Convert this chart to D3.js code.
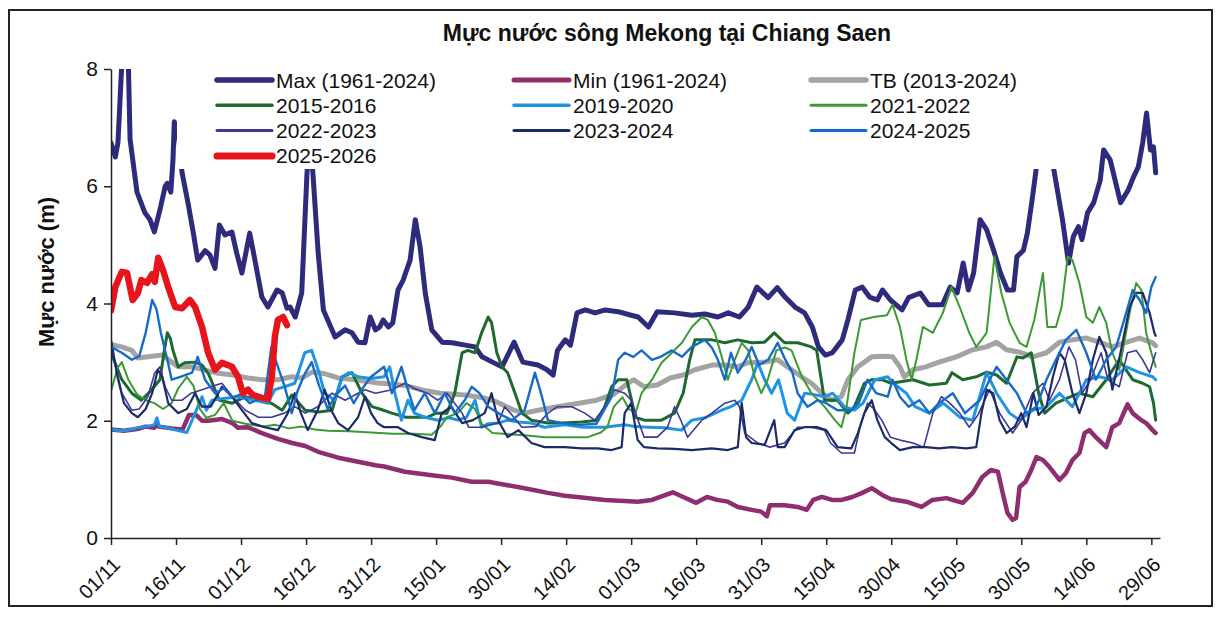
<!DOCTYPE html>
<html><head><meta charset="utf-8">
<script src="https://cdn.jsdelivr.net/npm/d3@7/dist/d3.min.js"></script>
<style>
body{margin:0;background:#fff}
svg{display:block}
text{font-family:"Liberation Sans",Arial,sans-serif;fill:#111}
</style>
</head><body>
<svg id="chart" width="1219" height="617"></svg>
<script>
// ---------------- data (day index from 01/11, water level in m) ----------------
const tickLabels = ["01/11","16/11","01/12","16/12","31/12","15/01","30/01","14/02","01/03","16/03","31/03","15/04","30/04","15/05","30/05","14/06","29/06"];
const tickDays = [0,15,30,45,60,75,90,105,120,135,150,165,180,195,210,225,240];

const maxData = [[0,6.74],[1,6.5],[1.6,6.74],[2.5,8.1],[3.2,8.5],[4,8.1],[4.4,6.8],[6,5.9],[7.8,5.55],[9,5.43],[10,5.22],[11.3,5.6],[12.5,6.0],[13,6.05],[13.8,5.9],[14.3,6.45],[14.6,7.1],[15.5,6.9],[16.4,6.23],[17.8,5.7],[19,5.2],[20,4.74],[21.7,4.9],[22.8,4.83],[24,4.6],[25,5.34],[26.3,5.17],[27.9,5.22],[29,4.86],[30.2,4.52],[32,5.2],[33.2,4.74],[34.8,4.11],[36.2,3.94],[38.3,4.23],[39.5,4.18],[40.6,3.92],[41.3,3.94],[42.5,3.77],[44,4.18],[45.2,6.2],[45.8,6.9],[46.6,6.2],[47.8,4.86],[49,3.89],[51.7,3.43],[54,3.55],[55.6,3.5],[57,3.34],[58.6,3.33],[59.8,3.77],[61,3.55],[62,3.6],[62.8,3.72],[64,3.6],[65,3.67],[66.2,4.23],[67.4,4.4],[69,4.74],[70.2,5.43],[71.3,4.97],[72.5,4.18],[74,3.55],[76.4,3.34],[78.7,3.33],[81.7,3.29],[84,3.26],[85.6,3.09],[88,3.0],[90.2,2.92],[93,3.34],[95,3.0],[98.5,2.95],[100.6,2.87],[102,2.78],[103,3.2],[104.8,3.38],[106,3.29],[107.5,3.84],[109.4,3.89],[111.7,3.84],[114,3.89],[117,3.86],[120,3.8],[121.6,3.77],[124,3.6],[126,3.86],[130,3.84],[134,3.8],[137,3.82],[140,3.77],[142.4,3.84],[145,3.77],[147,3.94],[149,4.28],[151.6,4.1],[153.7,4.27],[155.5,4.11],[157.8,3.94],[160,3.84],[161.8,3.6],[163.2,3.26],[164.8,3.12],[166.4,3.16],[168.7,3.38],[170,3.72],[171.7,4.23],[173.3,4.28],[175,4.11],[176.8,4.06],[178,4.23],[179.8,4.06],[182.5,3.89],[184,4.1],[186.7,4.18],[188.6,3.98],[191.8,3.98],[193.6,4.28],[195.2,4.18],[196.6,4.69],[197.8,4.23],[199,4.52],[200.5,5.43],[202,5.26],[203.6,4.91],[205.2,4.52],[206.8,4.23],[208.2,4.23],[209,4.8],[210.5,4.91],[211.4,5.2],[212.5,5.77],[213.5,6.33],[214.5,7.0],[216.5,7.0],[217.4,6.33],[219.5,5.43],[220.9,4.69],[222,5.14],[223.2,5.31],[224,5.09],[225.3,5.55],[226.7,5.72],[228.2,6.1],[229,6.62],[230.5,6.45],[232.9,5.72],[234.7,5.94],[235.9,6.16],[237,6.33],[238,6.74],[238.9,7.25],[239.8,6.62],[240.5,6.67],[241,6.23]];

const minData = [[0,1.85],[3,1.83],[6,1.86],[8,1.9],[10,1.88],[10.5,1.95],[11,1.9],[14,1.87],[16.5,1.85],[18,2.1],[19.6,2.1],[21,2.0],[22.4,2.0],[25.6,2.03],[28,1.96],[29.3,1.88],[31.6,1.89],[34.8,1.79],[38.5,1.69],[41.8,1.62],[44.8,1.57],[47.8,1.47],[52.4,1.37],[57,1.3],[61,1.24],[63,1.22],[67.8,1.13],[74,1.07],[78.6,1.03],[83.2,0.96],[87,0.96],[91.5,0.9],[95.4,0.85],[100.8,0.77],[104.7,0.72],[108.6,0.69],[113.9,0.65],[118.5,0.63],[121.5,0.62],[124.8,0.65],[129.6,0.78],[132,0.7],[135,0.6],[137.5,0.7],[139.8,0.65],[142.3,0.62],[144.6,0.53],[147.8,0.48],[150,0.45],[151.3,0.37],[152,0.56],[155.4,0.56],[158.4,0.53],[160.5,0.48],[162,0.65],[164,0.7],[166.3,0.65],[168.6,0.65],[171,0.7],[173.3,0.77],[175.5,0.85],[178,0.73],[180,0.66],[183.5,0.62],[187,0.53],[189.5,0.65],[192.7,0.68],[196.5,0.6],[198.8,0.77],[201,1.04],[203,1.16],[204.6,1.13],[205.7,0.77],[206.8,0.43],[208,0.31],[208.8,0.34],[209.6,0.87],[211,0.96],[212.3,1.16],[213.5,1.38],[215,1.33],[216.5,1.21],[218.8,0.99],[220.3,1.11],[221.8,1.33],[223.4,1.45],[224.6,1.79],[225.7,1.84],[227.2,1.72],[229.6,1.55],[231,1.89],[232.6,1.96],[234.5,2.28],[235.7,2.13],[237.7,2.01],[238.8,1.96],[240.3,1.84],[241,1.79]];

const avgData = [[0,3.3],[2.5,3.26],[4.8,3.2],[6.2,3.07],[8.5,3.09],[11.8,3.12],[14,3.0],[15.5,2.92],[18.7,2.92],[24,2.82],[28,2.78],[31.6,2.73],[34.8,2.7],[38.5,2.7],[41.7,2.75],[44,2.73],[46.4,2.83],[49.4,2.8],[52.4,2.73],[56.3,2.7],[61,2.65],[64,2.63],[68,2.6],[72,2.52],[76,2.47],[81.7,2.44],[86,2.39],[89,2.32],[93,2.18],[95.4,2.13],[98.5,2.18],[103,2.24],[108,2.3],[112,2.35],[116,2.45],[118.5,2.6],[120.5,2.7],[123,2.58],[126,2.61],[129,2.73],[132,2.78],[134.7,2.87],[138.6,2.95],[141.5,2.95],[144.5,2.92],[146.9,2.99],[150.8,3.0],[153.8,3.04],[156,2.92],[159.3,2.75],[161.6,2.64],[164,2.47],[166.3,2.35],[168.5,2.41],[170,2.7],[172.3,2.92],[175.5,3.09],[178.5,3.1],[180.3,3.09],[182,2.92],[183,2.75],[185,2.87],[188,2.92],[191,3.0],[195,3.09],[198.8,3.21],[202,3.26],[204.3,3.34],[206.6,3.21],[209.6,3.17],[212.6,3.09],[215.8,3.16],[218.8,3.34],[221.8,3.38],[225,3.41],[228,3.34],[231,3.26],[234.3,3.34],[237.3,3.41],[240.3,3.33],[241,3.28]];

const y2015 = [[0,3.16],[2.5,2.7],[4.8,2.47],[7,2.35],[9,2.5],[11.3,2.7],[12.3,3.2],[13,3.5],[13.7,3.4],[14.3,3.2],[15.5,2.92],[17,2.99],[19.4,3.0],[21,2.95],[22.5,2.8],[25,2.35],[28,2.3],[31,2.41],[34,2.35],[37,2.3],[39.5,2.18],[41.7,2.44],[44.8,2.18],[48,2.15],[51,2.18],[53.3,2.75],[55.6,2.82],[57.9,2.47],[60.2,2.24],[62,2.2],[64.8,2.13],[68,2.06],[73,2.06],[75,2.13],[77.5,2.13],[79.3,2.47],[81,3.16],[82.3,3.2],[84,3.16],[85.5,3.5],[87,3.77],[87.8,3.67],[89,3.16],[90.2,2.92],[91.5,2.82],[93.2,2.47],[94.8,2.13],[97,2.01],[100.8,1.96],[104,1.96],[108.6,1.98],[112.3,2.01],[113.9,2.24],[115.5,2.58],[117,2.7],[119,2.7],[121,2.06],[123,2.01],[127,2.01],[130,2.13],[132,2.47],[133.5,3.04],[134.7,3.38],[138.6,3.38],[141.6,3.33],[144.6,3.38],[147.8,3.33],[150.8,3.34],[153,3.5],[155.4,3.33],[158.4,3.33],[161.6,3.26],[162.8,3.2],[164.6,2.35],[167.6,2.35],[170,2.13],[171.5,2.24],[173.8,2.64],[175.5,2.7],[177.8,2.7],[180,2.64],[185,2.7],[188.8,2.61],[192.7,2.64],[194,2.82],[196.5,2.7],[199.6,2.75],[202,2.83],[204.3,2.78],[206.6,2.64],[209,3.09],[210.4,3.07],[212.3,3.16],[214,2.47],[215.4,2.13],[218,2.3],[221,2.4],[223.4,2.47],[226.5,2.41],[229.6,2.7],[232.6,3.04],[235.7,2.7],[238,2.64],[239.6,2.58],[240.5,2.3],[241,2.01]];

const y2019 = [[0,1.85],[2,1.83],[4,1.84],[6,1.88],[8,1.9],[10,1.93],[10.6,2.05],[11.2,1.9],[13,1.88],[15,1.84],[17.5,1.8],[19.4,2.13],[21,2.41],[22,2.18],[23.3,2.35],[26,2.38],[29.3,2.41],[33.2,2.35],[36.2,2.3],[37.8,2.53],[40,2.58],[42.4,2.64],[44.7,3.16],[46.3,3.2],[47.8,2.87],[49.3,2.47],[51.6,2.35],[53.3,2.75],[55,2.82],[57,2.75],[60,2.72],[63,2.75],[64.3,2.92],[65.5,2.47],[67,2.01],[68.5,2.35],[70,2.13],[72.4,2.06],[75.4,2.01],[78,2.05],[80,2.01],[82,2.06],[84,2.35],[85.5,1.89],[87,1.95],[89.3,1.96],[91.5,2.01],[94,1.98],[97,1.96],[100,1.89],[104.7,1.93],[109,1.89],[113.9,1.89],[118.5,1.93],[121,1.9],[124,1.89],[127.7,1.88],[131.6,1.84],[134,2.01],[137,2.05],[140.9,2.18],[143,2.24],[145.5,2.35],[147.8,2.7],[149.2,2.99],[150.8,2.7],[152.4,2.47],[154,2.7],[156,2.13],[157.7,2.01],[160,2.47],[162,2.45],[164.6,2.41],[166.5,2.47],[169.2,2.24],[171.5,2.18],[173.5,2.3],[176.2,2.7],[179.2,2.75],[180.3,2.65],[183.5,2.47],[185.5,2.24],[188.8,2.13],[192,2.3],[195.8,2.06],[198.8,2.01],[202,2.82],[204.3,2.47],[207.3,2.13],[209.6,2.01],[212.6,2.18],[215.8,2.24],[218.8,2.47],[221.8,2.24],[225,2.7],[228,2.75],[231,2.7],[234.3,2.92],[237.3,2.82],[240.3,2.75],[241,2.7]];

const y2021 = [[0,2.5],[1.5,2.9],[2.5,3.0],[4,2.7],[6,2.45],[8,2.35],[10,2.3],[12,2.2],[14,2.3],[15.5,2.55],[17.5,2.75],[19,2.6],[20.5,2.2],[22,2.05],[24,2.1],[26,2.3],[28,2.0],[31,1.95],[35,1.9],[38,1.93],[41,1.87],[44,1.9],[47,1.85],[50,1.83],[55,1.82],[60,1.8],[65,1.78],[70,1.78],[74,1.76],[76,1.9],[77.5,2.06],[80,2.13],[82,2.3],[84,2.2],[85.5,1.95],[88,1.79],[92,1.77],[96,1.75],[100,1.72],[105,1.72],[110,1.72],[113,1.8],[114.5,1.89],[116,2.24],[118,2.4],[119.5,2.2],[121,2.13],[122.4,2.47],[124.8,2.7],[127,2.99],[129.4,3.16],[131.7,3.33],[134,3.6],[136.3,3.77],[137.7,3.72],[139.3,3.5],[140.9,3.09],[142.3,2.7],[143.9,3.04],[145.5,3.33],[147,3.2],[148.5,2.75],[150,2.47],[151.5,2.7],[153.5,3.2],[155.5,3.25],[157,3.2],[159.4,2.75],[161.6,2.47],[164.6,2.24],[167,2.01],[168.5,1.89],[169.7,2.24],[171.5,3.16],[173,3.72],[176,3.77],[179,3.8],[180.3,3.98],[182,3.6],[183.5,3.04],[184.7,2.7],[185.8,3.04],[187.3,3.6],[189.6,3.5],[191.9,3.84],[193.9,4.28],[195.8,3.94],[198,3.5],[199.6,3.26],[202,3.5],[203.8,4.8],[205.4,4.18],[207.3,3.67],[209.6,3.33],[211.2,3.26],[213,3.72],[215,4.52],[216,3.6],[218,3.6],[219.3,3.94],[220.7,4.8],[221.8,4.74],[223.4,4.35],[225,3.77],[226.5,3.67],[228,3.94],[229.6,3.67],[231,3.16],[232.6,2.87],[235,3.84],[236.5,4.35],[237.7,4.23],[238.8,3.5],[240,3.16],[241,2.92]];

const y2022 = [[0,3.26],[2.5,2.47],[4.8,2.18],[6.5,2.2],[8.5,2.41],[10.1,2.82],[11.3,2.92],[12.5,2.58],[14,2.35],[16.4,2.35],[18.5,2.47],[21,2.53],[23,2.58],[25.6,2.64],[28,2.41],[31,2.18],[34,2.06],[37,2.06],[40,2.13],[42.4,2.24],[44.8,2.13],[47.7,2.24],[51,2.47],[54,2.35],[57,2.47],[58.6,2.53],[61,2.47],[64.8,2.53],[67.8,2.64],[70,2.55],[73,2.47],[75.4,2.35],[77.5,2.47],[81,2.13],[82.5,1.89],[85.5,1.89],[89.3,1.96],[90.8,2.24],[92.5,2.1],[94.8,1.89],[98,1.9],[100.8,2.13],[103,2.24],[106.3,2.24],[109.3,2.13],[111.6,2.01],[113.9,2.24],[116.2,2.53],[118.5,2.47],[120,2.35],[121,2.13],[123,1.72],[126,1.72],[128.4,1.89],[130,2.24],[131.5,2.0],[133,1.72],[136.3,2.01],[138.6,2.13],[141.6,2.3],[143.9,2.35],[145,2.24],[146.2,1.79],[149.2,1.62],[152,1.55],[155.4,1.62],[158.4,1.89],[161.6,1.89],[164.6,1.84],[166,1.62],[168.5,1.45],[171.5,1.45],[172.8,1.89],[174.5,2.3],[176,2.2],[177.8,2.01],[179.8,1.72],[182,1.67],[185,1.62],[187.5,1.55],[189.6,2.13],[191.6,2.41],[193.5,2.3],[195.8,2.13],[198,1.89],[200,2.1],[202.7,2.53],[205,2.13],[208,1.79],[210,2.01],[212.6,2.47],[215,2.64],[216.5,2.35],[218.8,2.7],[221,3.26],[222.5,3.04],[224,2.47],[226,2.7],[228.4,3.16],[230,2.7],[232.6,2.58],[234.5,3.16],[236.5,3.2],[238,3.04],[239.6,2.82],[241,3.16]];

const y2023 = [[0,3.38],[1.5,2.75],[3,2.3],[4.8,2.13],[6.2,2.06],[8,2.2],[9.5,2.47],[10.8,2.87],[11.8,2.75],[13.2,2.3],[15.5,2.13],[17.5,2.2],[19.4,2.47],[21,2.24],[23,2.24],[25.6,2.58],[27.5,2.45],[30.2,2.18],[32.5,1.96],[35.5,1.89],[38.5,1.84],[40.8,2.13],[42.4,2.47],[43.8,2.13],[45.4,1.84],[47.7,2.18],[49.3,2.53],[50.8,2.18],[52.4,1.96],[54.7,1.84],[57,2.06],[58.6,2.41],[60,2.13],[61.5,1.96],[63,1.89],[66.2,1.89],[68.5,1.79],[71.7,1.72],[74.7,1.67],[76.3,2.13],[78.5,2.24],[81,1.96],[83.5,2.01],[86.2,2.13],[87.8,2.47],[89.3,2.01],[91.5,1.72],[94,1.84],[97,1.62],[100,1.55],[104.7,1.55],[108.6,1.53],[112.3,1.53],[115.5,1.5],[117.8,1.55],[118.5,2.13],[120,2.3],[121.5,1.67],[123,1.55],[126,1.53],[130,1.52],[134,1.5],[138.6,1.53],[142.3,1.5],[144.6,1.55],[145.5,2.3],[146.5,1.72],[147.8,1.62],[150.8,1.59],[153,2.01],[153.8,1.55],[155.4,1.55],[157.7,1.84],[160,1.89],[163,1.89],[165,1.84],[167.6,1.55],[170.8,1.53],[172.3,1.79],[173.8,2.13],[175.5,2.35],[176.8,2.01],[178.5,1.72],[180,1.62],[182,1.5],[185,1.55],[188,1.55],[191,1.53],[194,1.55],[197.3,1.53],[199.6,1.55],[200.8,2.13],[202,2.53],[203.5,2.47],[205,2.01],[206.6,1.79],[208.5,1.9],[210,2.13],[211.2,1.89],[212.8,2.47],[214,2.1],[215.8,2.24],[217.3,2.75],[218.8,3.16],[220,3.04],[221.8,2.47],[223.4,2.13],[225,2.47],[226.5,3.04],[228,3.43],[229.6,3.16],[231,2.53],[233,3.2],[235,3.94],[236.5,4.18],[238,4.18],[239.6,3.84],[240.7,3.5],[241,3.45]];

const y2024 = [[0,3.26],[2.5,3.16],[4.8,3.04],[6.5,3.1],[8,3.5],[9.5,4.06],[10.5,3.9],[11.5,3.5],[13,3.04],[14,2.7],[16,2.75],[18.7,2.82],[20,3.09],[21.7,2.7],[24,2.47],[26,2.55],[28,2.4],[30,2.45],[32,2.3],[35.5,2.41],[37,3.26],[38.5,2.92],[40,2.6],[41.7,2.13],[43,2.5],[44.7,2.8],[46.3,3.0],[48,2.6],[50,2.2],[52,2.45],[54,2.6],[56,2.3],[58,2.55],[60,2.75],[63,2.92],[64.8,2.47],[67,2.92],[68.5,2.53],[70,2.18],[72.4,2.47],[74.7,2.13],[77,2.47],[79.3,2.13],[81.6,2.35],[83.2,2.58],[85,2.47],[87,2.24],[90,2.1],[92.5,2.01],[95.4,2.18],[97.8,2.82],[99.2,2.47],[100.8,2.01],[104,1.96],[108,1.93],[112,1.95],[115.5,2.41],[117,3.04],[118.5,3.16],[120.5,3.09],[122.4,3.2],[124.8,3.04],[127,3.1],[129.4,3.2],[131.7,3.09],[134,3.26],[137,3.38],[138.6,3.25],[140,3.04],[141.6,2.7],[143,3.16],[144.6,2.82],[146.5,3.05],[147.8,3.26],[149.5,2.95],[151.6,3.04],[153.8,3.33],[155.5,3.05],[157.2,2.82],[158.4,2.47],[160.7,2.24],[163,2.35],[165,2.3],[167.6,2.18],[170.8,2.18],[172.5,2.3],[174.5,2.7],[176.5,2.47],[179.2,2.41],[180.3,2.7],[182,2.41],[184,2.24],[186.5,2.35],[188.8,2.13],[191,2.3],[194.2,2.47],[197,2.13],[200.4,2.35],[202.7,2.7],[204.3,2.92],[206.6,2.7],[209,2.47],[211.2,2.13],[213.5,2.24],[215.8,2.7],[218,3.04],[220.3,3.38],[222.7,3.55],[225,3.16],[227.2,2.7],[229.6,3.04],[231.9,3.26],[234.2,3.84],[235.7,4.23],[237.3,4.06],[238.8,3.84],[240,4.28],[241,4.45]];

const y2025 = [[0,3.88],[1,4.28],[2.5,4.54],[3.7,4.52],[5,4.06],[6.2,4.18],[7,4.4],[8.3,4.35],[9.5,4.5],[10.1,4.37],[10.9,4.78],[12,4.57],[13.2,4.28],[14.8,3.94],[16.4,3.92],[18.2,4.06],[19.4,3.94],[21,3.6],[22.4,3.16],[24,2.87],[25.6,2.99],[27.9,2.92],[29.3,2.75],[30.4,2.47],[31.6,2.53],[32.7,2.44],[34.8,2.39],[36.2,2.37],[37.1,2.75],[37.8,3.43],[38.5,3.72],[39.7,3.77],[40.6,3.63]];

const seriesNames = ["Max (1961-2024)","Min (1961-2024)","TB (2013-2024)","2015-2016","2019-2020","2021-2022","2022-2023","2023-2024","2024-2025","2025-2026"];
const seriesData = [maxData,minData,avgData,y2015,y2019,y2021,y2022,y2023,y2024,y2025];

// ---------------- styles ----------------
const seriesColors = ["#2e2a7c","#8e2e6e","#a3a3a3","#1e6a2e","#2094e4","#3b9a34","#3d3896","#1c2a68","#176bc6","#e8141c"];
const seriesWidths = [5,4.5,5,3,3,2,1.6,2.2,2.4,6.5];
const legendCols = [0,1,2,0,1,2,0,1,2,0];
const legendRows = [0,0,0,1,1,1,2,2,2,3];

const svg = d3.select("#chart");
const x = d3.scaleLinear().domain([0,242]).range([111,1160]);
const y = d3.scaleLinear().domain([0,8]).range([538,69]);

// frame
svg.append("rect").attr("x",9).attr("y",10).attr("width",1203).attr("height",596)
  .attr("fill","#fff").attr("stroke","#222").attr("stroke-width",2);

// title
svg.append("text").attr("x",667).attr("y",41).attr("text-anchor","middle")
  .attr("font-size",23).attr("font-weight","bold").text("Mực nước sông Mekong tại Chiang Saen");

// clip
svg.append("clipPath").attr("id","plotclip").append("rect")
  .attr("x",111).attr("y",69).attr("width",1049).attr("height",469);

const line = d3.line().x(d=>x(d[0])).y(d=>y(d[1]));
const gLines = svg.append("g").attr("clip-path","url(#plotclip)");
seriesData.forEach((data,i)=>{
  gLines.append("path").datum(data).attr("d",line)
    .attr("fill","none").attr("stroke",seriesColors[i]).attr("stroke-width",seriesWidths[i])
    .attr("stroke-linejoin","round").attr("stroke-linecap","round");
});

// axes
const yAxis = svg.append("g").attr("transform","translate(111,0)")
  .call(d3.axisLeft(y).tickValues([0,2,4,6,8]).tickFormat(d3.format("d")).tickSize(7).tickSizeOuter(0));
yAxis.select(".domain").attr("stroke","#222").attr("stroke-width",1.5);
yAxis.selectAll(".tick line").attr("stroke","#222").attr("stroke-width",1.5);
yAxis.selectAll(".tick text").attr("font-size",21).attr("x",-13).attr("fill","#111")
  .style("font-family","'Liberation Sans',Arial,sans-serif");

const xAxis = svg.append("g").attr("transform","translate(0,538)")
  .call(d3.axisBottom(x).tickValues(tickDays).tickFormat((d,i)=>tickLabels[i]).tickSize(7).tickSizeOuter(0));
xAxis.select(".domain").attr("stroke","#222").attr("stroke-width",1.5);
xAxis.selectAll(".tick line").attr("stroke","#222").attr("stroke-width",1.5);
xAxis.selectAll(".tick text").attr("font-size",20).attr("fill","#111")
  .style("font-family","'Liberation Sans',Arial,sans-serif")
  .attr("text-anchor","end").attr("x",0).attr("y",0).attr("dy","0.35em")
  .attr("transform","translate(5,23) rotate(-45)");

// y label
svg.append("text").attr("transform","translate(54,272) rotate(-90)")
  .attr("text-anchor","middle").attr("font-size",22).attr("font-weight","bold").text("Mực nước (m)");

// legend (opaque box)
const lg = svg.append("g");
lg.append("rect").attr("x",177).attr("y",63).attr("width",880).attr("height",106).attr("fill","#fff");
const colX = [217,514,811];
seriesNames.forEach((name,i)=>{
  const lx = colX[legendCols[i]], ly = 80 + legendRows[i]*25.3;
  lg.append("line").attr("x1",lx).attr("x2",lx+55).attr("y1",ly).attr("y2",ly)
    .attr("stroke",seriesColors[i]).attr("stroke-width",Math.max(seriesWidths[i],2.5)+0.5)
    .attr("stroke-linecap","round");
  lg.append("text").attr("x",lx+59).attr("y",ly+7.5).attr("font-size",21).text(name);
});
</script>
</body></html>
